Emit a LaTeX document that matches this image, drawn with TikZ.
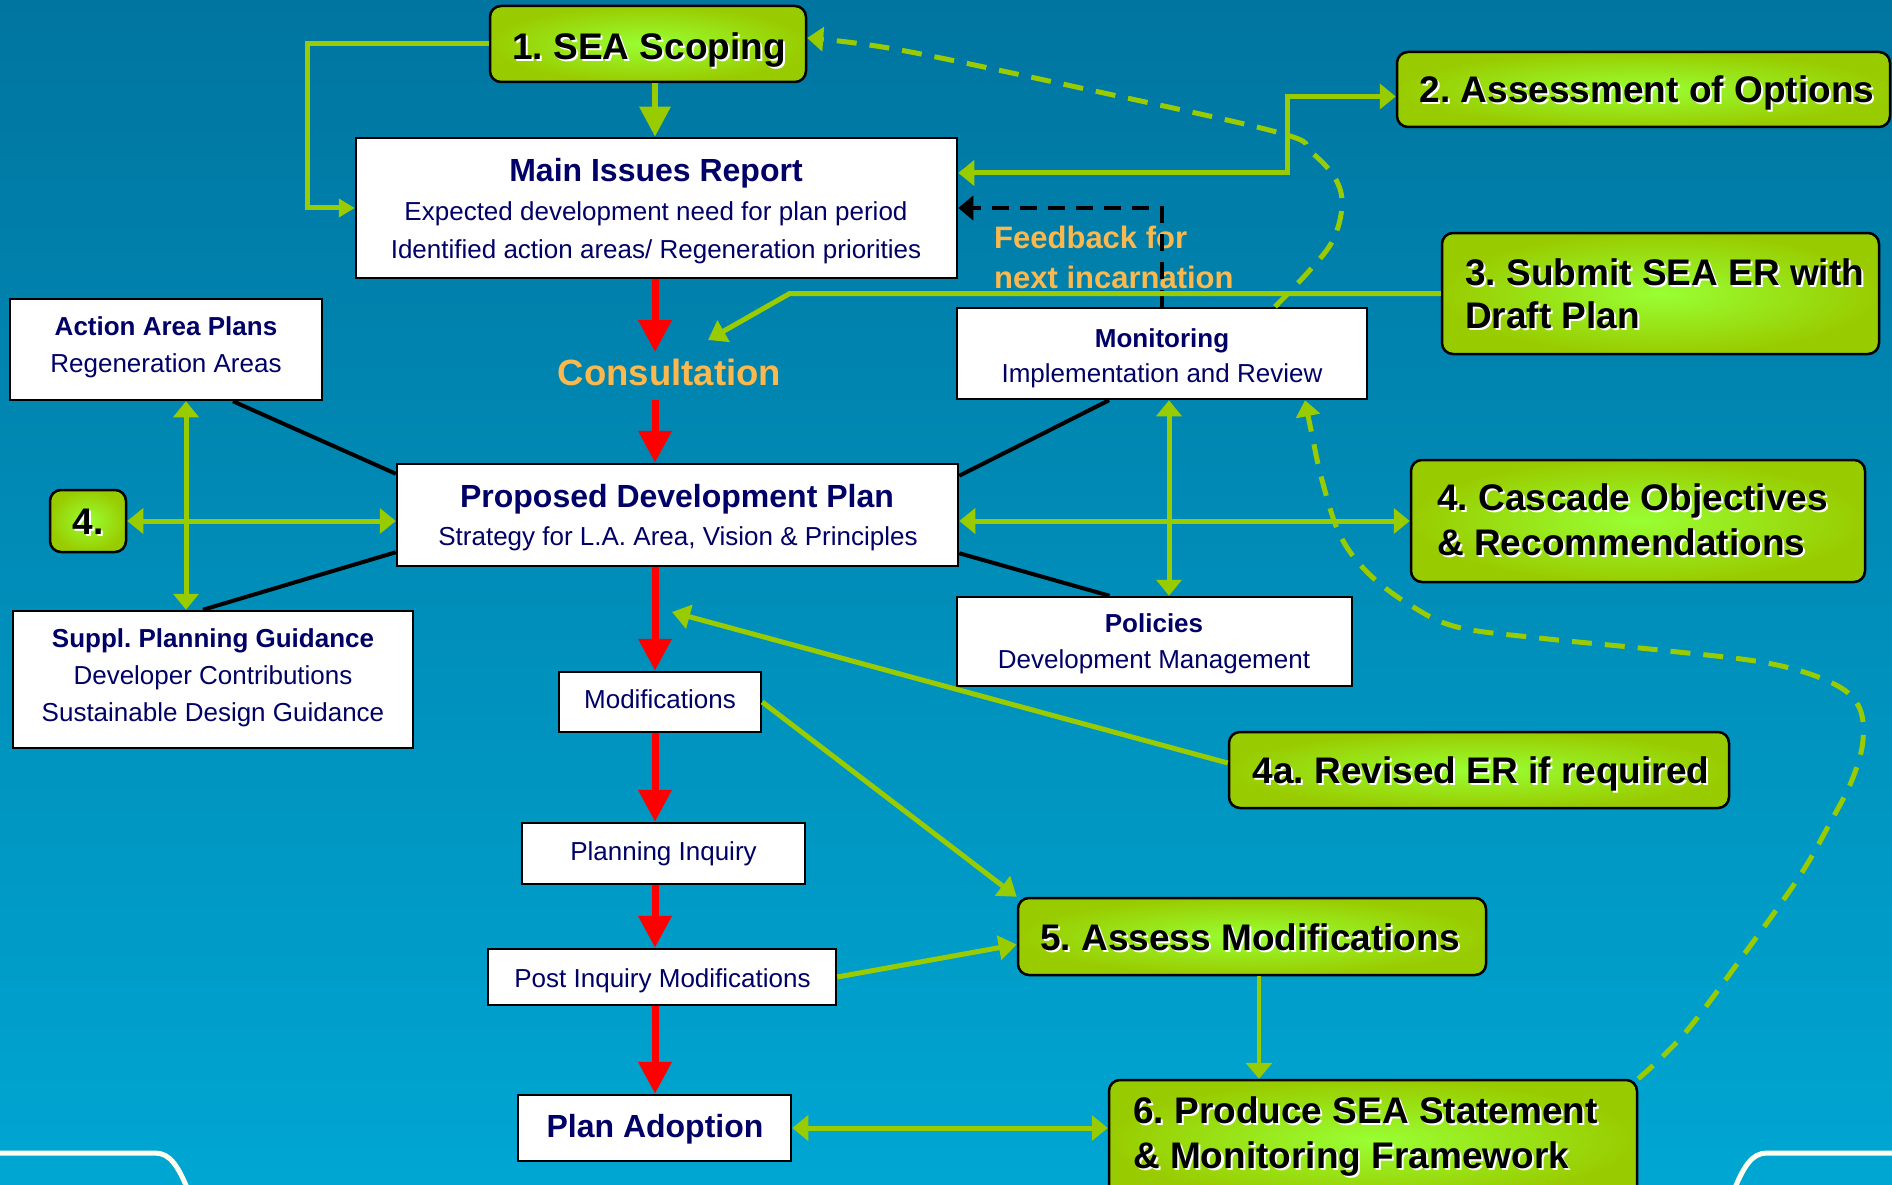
\documentclass[tikz,border=0pt]{standalone}
\usepackage{fontspec}
\setmainfont{Liberation Sans}
\usetikzlibrary{arrows.meta,calc}
\definecolor{gline}{RGB}{153,204,0}
\definecolor{gin}{RGB}{153,255,51}
\definecolor{gout}{RGB}{153,204,0}
\definecolor{navy}{RGB}{0,0,102}
\definecolor{orng}{RGB}{250,184,78}
\definecolor{bgtop}{RGB}{0,117,160}
\definecolor{bgbot}{RGB}{0,166,210}
\definecolor{cream}{RGB}{255,255,240}
\newcommand\shtxt[1]{\rlap{\kern2pt\raisebox{-2pt}{\textcolor{white}{#1}}}#1}
\frenchspacing
\begin{document}
\begin{tikzpicture}[x=1pt,y=-1pt,
  gbox/.style={draw=black, line width=2.5pt, rounded corners=11pt, inner sep=0pt, inner color=gin, outer color=gout},
  wbox/.style={draw=black, line width=2.5pt, fill=white, inner sep=0pt},
  gtxt/.style={font=\fontsize{37}{44}\selectfont\bfseries, text=black, inner sep=0pt, anchor=base},
  ttl/.style={font=\fontsize{32}{38}\selectfont\bfseries, text=navy, inner sep=0pt, anchor=base},
  sttl/.style={font=\fontsize{26}{31}\selectfont\bfseries, text=navy, inner sep=0pt, anchor=base},
  sub/.style={font=\fontsize{26}{31}\selectfont, text=navy, inner sep=0pt, anchor=base},
  otxt/.style={font=\fontsize{31}{37}\selectfont\bfseries, text=orng, inner sep=0pt, anchor=base west},
  rarr/.style={draw=red, line width=7pt, -{Triangle[length=32pt,width=32pt]}},
  garr/.style={draw=gline, line width=5pt, -{Triangle[length=18pt,width=24pt]}},
  garrsm/.style={draw=gline, line width=5pt, -{Triangle[length=16pt,width=18pt]}},
  garrbig/.style={draw=gline, line width=6pt, -{Triangle[length=30pt,width=30pt]}},
  gdbl/.style={draw=gline, line width=5pt, {Triangle[length=16pt,width=25pt]}-{Triangle[length=16pt,width=25pt]}},
  bline/.style={draw=black, line width=4pt},
  bdash/.style={draw=black, line width=4pt, dash pattern=on 17pt off 11pt, -{Triangle[length=15pt,width=24pt]}},
  gdash/.style={draw=gline, line width=5pt, dash pattern=on 20pt off 13pt, -{Triangle[length=16pt,width=24pt]}}
]
\useasboundingbox (0,0) rectangle (1892,1185);
\clip (0,0) rectangle (1892,1185);
\shade[top color=bgtop, bottom color=bgbot] (0,0) rectangle (1892,1185);
\draw[cream, line width=5pt] (0,1153) -- (155,1153) .. controls (170,1153) and (178,1166) .. (188,1190);
\draw[cream, line width=5pt] (1892,1153) -- (1767,1153) .. controls (1752,1153) and (1744,1166) .. (1734,1190);

% green boxes
\node[gbox, minimum width=316pt, minimum height=76pt] (scoping) at (648,44) {};
\node[gbox, minimum width=493pt, minimum height=75pt] (options) at (1643.5,89.5) {};
\node[gbox, minimum width=437pt, minimum height=121pt] (submit) at (1660.5,293.5) {};
\node[gbox, minimum width=454pt, minimum height=122pt] (cascade) at (1638,521) {};
\node[gbox, minimum width=76pt, minimum height=62pt] (four) at (88,521) {};
\node[gbox, minimum width=500pt, minimum height=76pt] (revised) at (1479,770) {};
\node[gbox, minimum width=468pt, minimum height=77pt] (assess) at (1252,936.5) {};
\node[gbox, minimum width=528pt, minimum height=120pt] (produce) at (1373,1140) {};

% white boxes
\node[wbox, minimum width=601pt, minimum height=140pt] (mir) at (656.5,208) {};
\node[wbox, minimum width=312pt, minimum height=101pt] (aap) at (166,349.5) {};
\node[wbox, minimum width=410pt, minimum height=91pt] (moni) at (1162,353.5) {};
\node[wbox, minimum width=561pt, minimum height=102pt] (pdp) at (677.5,515) {};
\node[wbox, minimum width=400pt, minimum height=137pt] (spg) at (213,679.5) {};
\node[wbox, minimum width=395pt, minimum height=89pt] (pol) at (1154.5,641.5) {};
\node[wbox, minimum width=202pt, minimum height=60pt] (mods) at (660,702) {};
\node[wbox, minimum width=283pt, minimum height=61pt] (inq) at (663.5,853.5) {};
\node[wbox, minimum width=348pt, minimum height=56pt] (post) at (662,977) {};
\node[wbox, minimum width=273pt, minimum height=66pt] (adopt) at (654.5,1128) {};

% green box texts
\node[gtxt] (scopingT) at (649,60) {\shtxt{1. SEA Scoping}};
\node[gtxt] (optionsT) at (1647,103) {\shtxt{2. Assessment of Options}};
\node[gtxt, anchor=base west] (submitT1) at (1465,285) {\shtxt{3. Submit SEA ER with}};
\node[gtxt, anchor=base west] (submitT2) at (1465,328) {\shtxt{Draft Plan}};
\node[gtxt, anchor=base west] (cascT1) at (1437,510) {\shtxt{4. Cascade Objectives}};
\node[gtxt, anchor=base west] (cascT2) at (1437,555) {\shtxt{\& Recommendations}};
\node[gtxt] (fourT) at (88,534) {\shtxt{4.}};
\node[gtxt] (revT) at (1481,783) {\shtxt{4a. Revised ER if required}};
\node[gtxt] (assT) at (1250,950) {\shtxt{5. Assess Modifications}};
\node[gtxt, anchor=base west] (prodT1) at (1133,1123) {\shtxt{6. Produce SEA Statement}};
\node[gtxt, anchor=base west] (prodT2) at (1133,1168) {\shtxt{\& Monitoring Framework}};

% white box texts
\node[ttl] (mirT) at (656,182) {Main Issues Report};
\node[sub] (mirS1) at (656,220) {Expected development need for plan period};
\node[sub] (mirS2) at (656,258) {Identified action areas/ Regeneration priorities};
\node[sttl] (aapT) at (166,335) {Action Area Plans};
\node[sub] (aapS) at (166,372) {Regeneration Areas};
\node[sttl] (moniT) at (1162,347) {Monitoring};
\node[sub] (moniS) at (1162,382) {Implementation and Review};
\node[ttl] (pdpT) at (677,507) {Proposed Development Plan};
\node[sub] (pdpS) at (678,545) {Strategy for L.A. Area, Vision \& Principles};
\node[sttl] (spgT) at (213,647) {Suppl. Planning Guidance};
\node[sub] (spgS1) at (213,684) {Developer Contributions};
\node[sub] (spgS2) at (213,721) {Sustainable Design Guidance};
\node[sttl] (polT) at (1154,632) {Policies};
\node[sub] (polS) at (1154,668) {Development Management};
\node[sub] (modsT) at (660,708) {Modifications};
\node[sub] (inqT) at (663.5,860) {Planning Inquiry};
\node[sub] (postT) at (662.5,987) {Post Inquiry Modifications};
\node[ttl] (adoptT) at (655,1137) {Plan Adoption};

% orange texts
\node[font=\fontsize{36.5}{44}\selectfont\bfseries, text=orng, inner sep=0pt, anchor=base] (consult) at (669.5,385) {Consultation};
\node[otxt] (fb1) at (994,248) {Feedback for};
\node[otxt] (fb2) at (994,288) {next incarnation};

% coordinates
\coordinate (rx) at (655,0);
\coordinate (consTop) at (655,352);
\coordinate (consBot) at (655,400);
\coordinate (subTip) at (708,340);
\coordinate (revTip) at (672,612);
\coordinate (vl) at (186,0);
\coordinate (vr) at (1169,0);
\coordinate (a5) at ([xshift=7pt]assess.south);
\coordinate (optIn) at ([yshift=-7pt]options.west);
\coordinate (c1s) at ([xshift=113pt]moni.north);
\coordinate (c1e) at ([yshift=6pt]scoping.east);
\coordinate (c2s) at (produce.north east);
\coordinate (c2e) at ([xshift=143pt]moni.south);

% red flow
\draw[rarr] (mir.south -| rx) -- (consTop);
\draw[rarr] (consBot) -- (pdp.north -| rx);
\draw[rarr] (pdp.south -| rx) -- (mods.north -| rx);
\draw[rarr] (mods.south -| rx) -- (inq.north -| rx);
\draw[rarr] (inq.south -| rx) -- (post.north -| rx);
\draw[rarr] (post.south -| rx) -- (adopt.north -| rx);

% black lines
\draw[bline] ($(aap.south)+(67,0)$) -- ($(pdp.north west)+(0,11)$);
\draw[bline] ($(pdp.south west)+(0,-15)$) -- ($(spg.north)+(-10,0)$);
\draw[bline] ($(moni.south)+(-53,0)$) -- ($(pdp.north east)+(0,13)$);
\draw[bline] ($(pdp.south east)+(0,-14)$) -- ($(pol.north)+(-45,0)$);
\draw[bdash] (moni.north) |- (mir.east);

% green connectors
\draw[garrbig] (scoping.south -| rx) -- (mir.north -| rx);
\draw[garrsm] (scoping.west) -- ++(-181,0) |- (mir.west);
\draw[gdbl] ([yshift=35pt]mir.east) -| ($(optIn)+(-108,0)$) -- (optIn);
\draw[garr] (submit.west) -- ($(submit.west)+(-651,0)$) -- (subTip);
\draw[gdbl] (four.east) -- (four.east -| pdp.west);
\draw[gdbl] (aap.south -| vl) -- (spg.north -| vl);
\draw[gdbl] (pdp.east |- cascade.west) -- (cascade.west);
\draw[gdbl] (moni.south -| vr) -- (pol.north -| vr);
\draw[garr] ($(revised.west)+(0,-7)$) -- (revTip);
\draw[garr] (mods.east) -- (assess.north west);
\draw[garr] (post.east) -- ($(assess.west)+(0,8)$);
\draw[draw=gline, line width=4pt, -{Triangle[length=16pt,width=26pt]}] (a5) -- (a5 |- produce.north);
\draw[gdbl] (adopt.east) -- (adopt.east -| produce.west);

% dashed feedback curves
\draw[gdash] plot[smooth, tension=0.6] coordinates {(c1s) (1310,270) (1333,240) (1342,205) (1335,178) (1311,152) (1280,133) (1090,90) (900,50) (c1e)};
\draw[gdash] plot[smooth, tension=0.6] coordinates {(c2s) (1685,1033) (1745,953) (1799,877) (1830,823) (1852,780) (1863,740) (1858,705) (1830,682) (1767,663) (1659,650) (1539,638) (1457,627) (1410,605) (1368,573) (1340,535) (1322,480) (1311,430) (c2e)};
\end{tikzpicture}
\end{document}
